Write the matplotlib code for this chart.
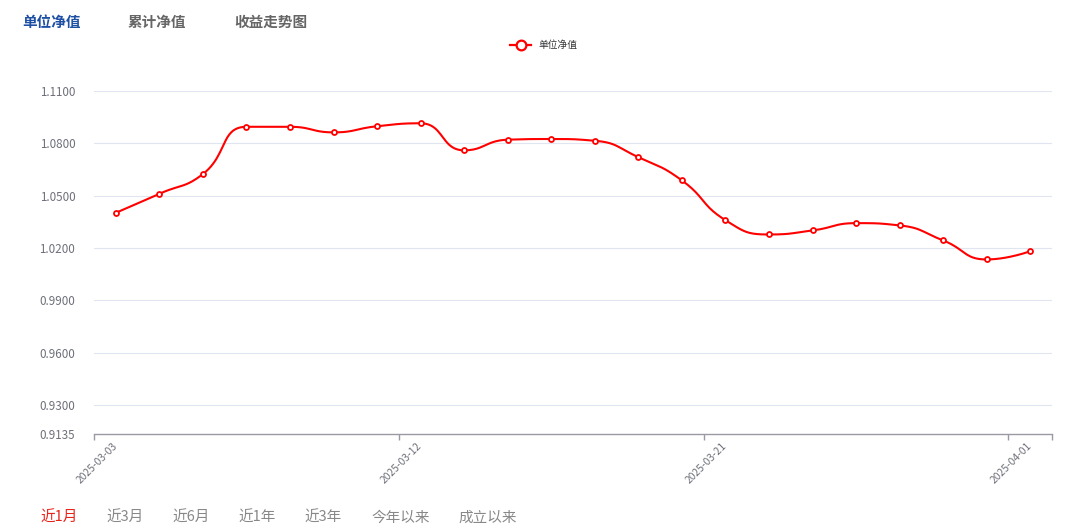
import matplotlib
matplotlib.use("Agg")
import matplotlib.pyplot as plt
from matplotlib.lines import Line2D
import numpy as np

plt.rcParams['font.family'] = ['Noto Sans CJK SC', 'DejaVu Sans']

# ---- data ----
dates = ["2025-03-03", "2025-03-04", "2025-03-05", "2025-03-06", "2025-03-07",
         "2025-03-10", "2025-03-11", "2025-03-12", "2025-03-13", "2025-03-14",
         "2025-03-17", "2025-03-18", "2025-03-19", "2025-03-20", "2025-03-21",
         "2025-03-24", "2025-03-25", "2025-03-26", "2025-03-27", "2025-03-28",
         "2025-03-31", "2025-04-01"]
nav = [1.0402, 1.0511, 1.0624, 1.0895, 1.0895, 1.0863, 1.0898, 1.0915,
       1.0760, 1.0821, 1.0825, 1.0815, 1.0721, 1.0588, 1.0360, 1.0278,
       1.0301, 1.0343, 1.0330, 1.0244, 1.0135, 1.0182]
y_ticks = [0.9135, 0.93, 0.96, 0.99, 1.02, 1.05, 1.08, 1.11]
label_every = 7
top_tabs = ["单位净值", "累计净值", "收益走势图"]
bottom_tabs = ["近1月", "近3月", "近6月", "近1年", "近3年", "今年以来", "成立以来"]
series_name = "单位净值"

W, H = 1080, 531
fig = plt.figure(figsize=(W / 100, H / 100), dpi=100)
ax_l, ax_r, ax_t, ax_b = 94, 1052, 91, 434
ax = fig.add_axes([ax_l / W, 1 - ax_b / H, (ax_r - ax_l) / W, (ax_b - ax_t) / H])

n = len(nav)
xs = np.arange(n, dtype=float)
ys = np.array(nav)
xlim = (-0.5, n - 0.5)
ylim = (y_ticks[0], y_ticks[-1])
ax.set_xlim(*xlim)
ax.set_ylim(*ylim)

# ---- echarts-like smoothing in pixel space ----
sx = (ax_r - ax_l) / (xlim[1] - xlim[0])
sy = (ax_b - ax_t) / (ylim[1] - ylim[0])
P = np.column_stack([xs * sx, ys * sy])


def smooth_curve(pts, smooth=0.5, steps=24):
    out = [pts[0]]
    cp0 = pts[0].copy()
    m = len(pts)
    for k in range(1, m):
        prev = pts[k - 1]
        cur = pts[k]
        if k >= m - 1:
            cp1 = cur.copy()
            nxt_cp0 = cur.copy()
        else:
            nxt = pts[k + 1]
            v = nxt - prev
            d0 = cur - prev
            d1 = nxt - cur
            lp = np.hypot(*d0)
            ln = np.hypot(*d1)
            r = ln / (ln + lp)
            nc = cur + v * smooth * r
            nc = np.minimum(nc, np.maximum(nxt, cur))
            nc = np.maximum(nc, np.minimum(nxt, cur))
            v2 = nc - cur
            cp1 = cur - v2 * lp / ln
            cp1 = np.minimum(cp1, np.maximum(prev, cur))
            cp1 = np.maximum(cp1, np.minimum(prev, cur))
            v3 = cur - cp1
            nxt_cp0 = cur + v3 * ln / lp
        t = np.linspace(0, 1, steps)[1:, None]
        seg = ((1 - t) ** 3) * prev + 3 * ((1 - t) ** 2) * t * cp0 + \
            3 * (1 - t) * t ** 2 * cp1 + t ** 3 * cur
        out.extend(seg)
        cp0 = nxt_cp0
    return np.array(out)


curve = smooth_curve(P)
cx = curve[:, 0] / sx
cy = curve[:, 1] / sy

red = "#ff0000"
ax.plot(cx, cy, color=red, lw=1.5, solid_capstyle='round', zorder=3, clip_on=False)
ax.plot(xs, ys, linestyle='none', marker='o', ms=3.6, mfc='white', mec=red,
        mew=1.3, zorder=4, clip_on=False)

# ---- grid & axes ----
for yv in y_ticks[1:]:
    ax.axhline(yv, color="#e0e6f1", lw=0.8, zorder=1)
for s in ["top", "right", "left"]:
    ax.spines[s].set_visible(False)
ax.spines["bottom"].set_color("#9a9aa4")
ax.spines["bottom"].set_linewidth(1.0)

ax.set_yticks(y_ticks)
ax.set_yticklabels([f"{v:.4f}" for v in y_ticks])
ax.tick_params(axis='y', length=0, pad=13.5, labelsize=8.4, labelcolor="#6e7079")

# x ticks at category boundaries, labels at centres
tick_idx = list(range(0, n, label_every))
ax.set_xticks([i - 0.5 for i in tick_idx] + [n - 0.5])
ax.set_xticklabels([])
ax.tick_params(axis='x', length=4, width=1, color="#9a9aa4")
for i in tick_idx:
    ax.annotate(dates[i], xy=(i, ylim[0]), xycoords='data',
                xytext=(-2.6, -4.6), textcoords='offset points',
                rotation=45, ha='right', va='top', rotation_mode='anchor',
                fontsize=7.4, color="#6e7079", annotation_clip=False)

# ---- top tabs ----
tab_x = [22, 128, 234]
for i, (t, x) in enumerate(zip(top_tabs, tab_x)):
    fig.text(x / W, 1 - 22 / H, t, ha='left', va='center', fontsize=10.5,
             fontweight='bold', color="#1d4fa3" if i == 0 else "#666666")

# ---- legend ----
fig.add_artist(Line2D([510 / W, 531 / W], [1 - 45 / H, 1 - 45 / H], color=red, lw=1.6))
fig.add_artist(Line2D([520.5 / W], [1 - 45 / H], marker='o', ms=7, mfc='white',
                      mec=red, mew=1.6, linestyle='none'))
fig.text(538 / W, 1 - 45 / H, series_name, ha='left', va='center', fontsize=7,
         color="#333333")

# ---- bottom tabs ----
btab_x = [40, 106, 172, 238, 304, 371, 458]
for i, (t, x) in enumerate(zip(bottom_tabs, btab_x)):
    fig.text(x / W, 1 - 518 / H, t, ha='left', va='center', fontsize=10.5,
             color="#e8231a" if i == 0 else "#888888")

fig.savefig("out.png", dpi=100)
